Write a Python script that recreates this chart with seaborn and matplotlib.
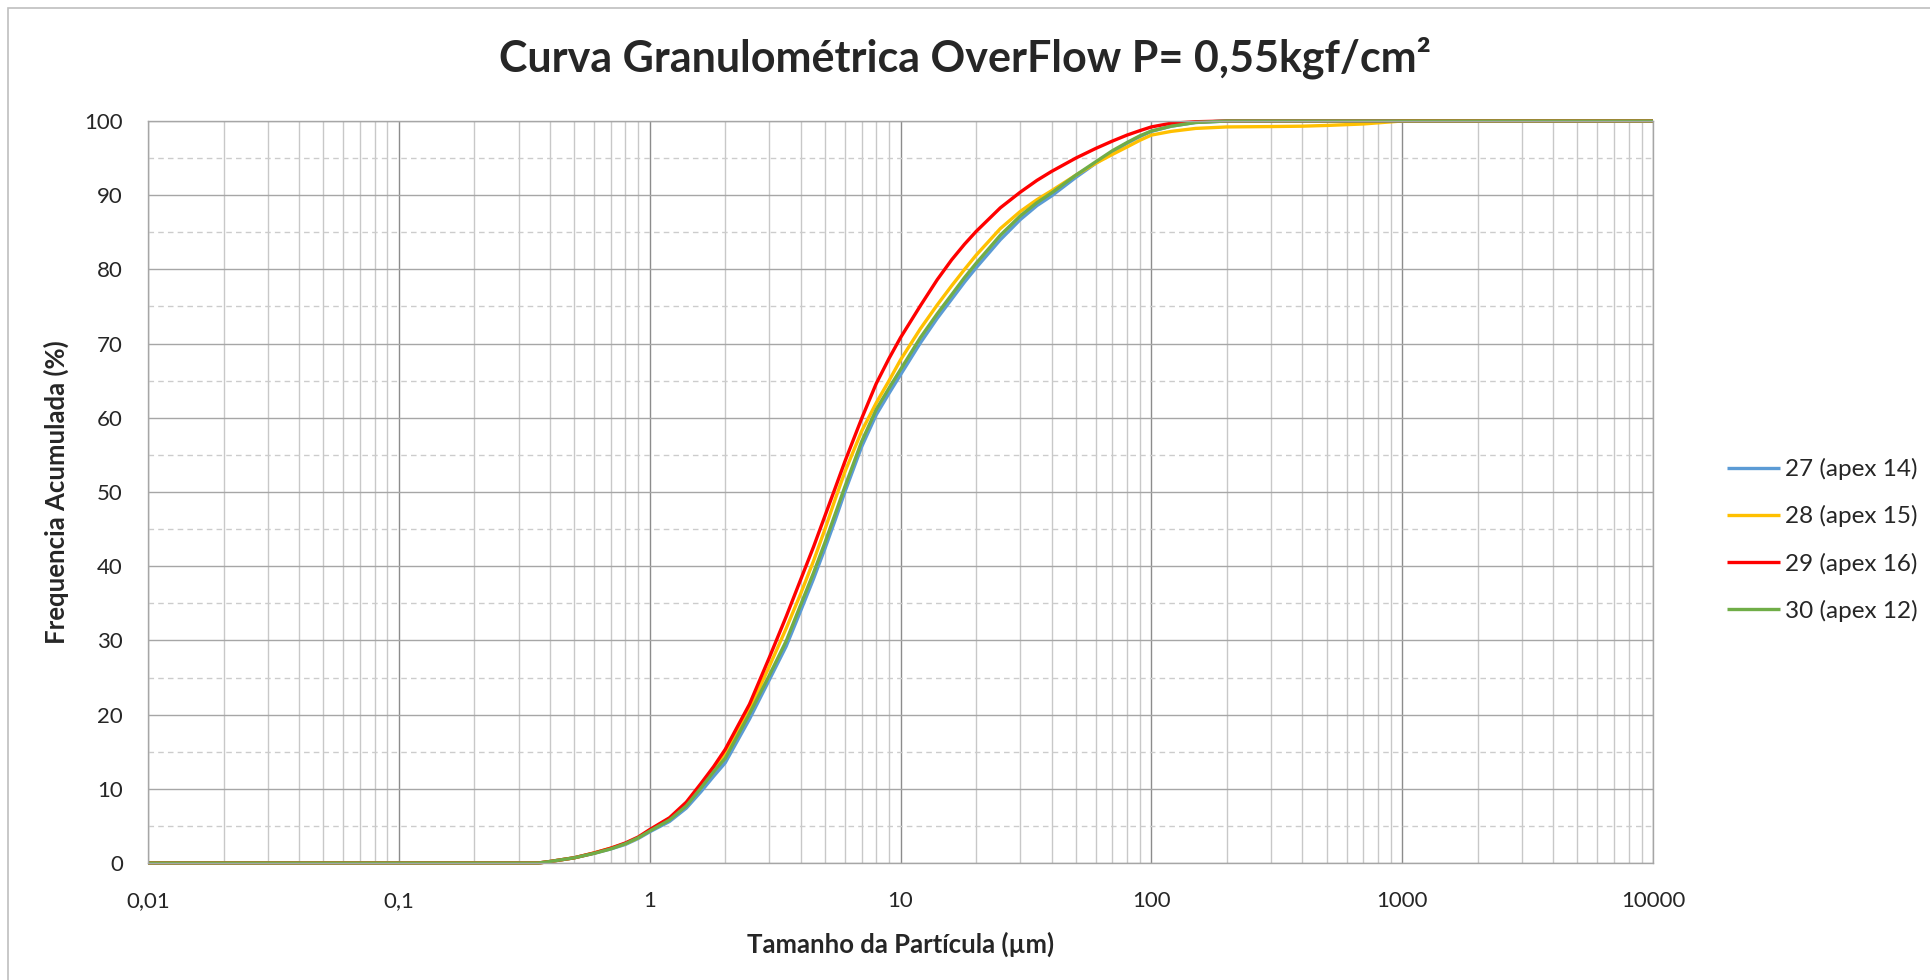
import numpy as np
import pandas as pd
import seaborn as sns
import matplotlib.pyplot as plt
from matplotlib.ticker import FixedLocator, FixedFormatter, NullFormatter
from matplotlib.patches import Rectangle

# particle size (um) and cumulative passing (%) for each sample
sizes = [0.01, 0.02, 0.05, 0.1, 0.2, 0.3, 0.36, 0.4, 0.5, 0.6, 0.7, 0.8, 0.9, 1, 1.2, 1.4,
         1.6, 1.8, 2, 2.5, 3, 3.5, 4, 4.5, 5, 5.5, 6, 7, 8, 9, 10, 12, 14, 16, 18, 20, 25,
         30, 35, 40, 50, 60, 70, 80, 90, 100, 120, 150, 200, 300, 400, 500, 700, 1000,
         2000, 5000, 10000]

s27 = [0, 0, 0, 0, 0, 0, 0, 0.2, 0.7, 1.3, 1.9, 2.5, 3.3, 4.2, 5.6, 7.4,
       9.6, 11.7, 13.5, 19.4, 24.7, 29.2, 34.0, 38.3, 42.4, 46.3, 50.0, 56.1, 60.4, 63.3, 65.8, 70.1, 73.4, 76.0, 78.3, 80.2, 84.0,
       86.7, 88.6, 89.9, 92.4, 94.3, 95.8, 97.0, 97.9, 98.6, 99.3, 99.8, 100, 100, 100, 100, 100, 100,
       100, 100, 100]
s28 = [0, 0, 0, 0, 0, 0, 0, 0.2, 0.7, 1.35, 2.0, 2.6, 3.4, 4.4, 6.0, 8.0,
       10.4, 12.7, 14.8, 20.7, 26.5, 31.6, 36.3, 40.7, 45.0, 49.1, 52.7, 58.2, 62.0, 65.0, 67.8, 72.0, 75.2, 77.8, 80.0, 81.9, 85.5,
       87.8, 89.4, 90.6, 92.7, 94.3, 95.5, 96.5, 97.4, 98.1, 98.6, 99.0, 99.2, 99.25, 99.3, 99.4, 99.6, 100,
       100, 100, 100]
s29 = [0, 0, 0, 0, 0, 0, 0, 0.2, 0.7, 1.35, 2.0, 2.7, 3.5, 4.5, 6.1, 8.2,
       10.7, 13.0, 15.3, 21.4, 27.7, 33.2, 38.2, 42.6, 46.8, 50.6, 54.1, 59.9, 64.6, 68.0, 70.8, 75.1, 78.6, 81.3, 83.4, 85.1, 88.3,
       90.4, 92.0, 93.2, 95.0, 96.3, 97.3, 98.1, 98.7, 99.2, 99.7, 99.9, 100, 100, 100, 100, 100, 100,
       100, 100, 100]
s30 = [0, 0, 0, 0, 0, 0, 0, 0.2, 0.7, 1.3, 1.9, 2.6, 3.4, 4.3, 5.8, 7.7,
       10.1, 12.3, 14.1, 20.1, 25.3, 29.9, 34.8, 39.1, 43.2, 47.1, 50.7, 56.8, 61.1, 64.0, 66.5, 70.8, 74.0, 76.6, 78.9, 80.8, 84.6,
       87.2, 89.0, 90.3, 92.7, 94.5, 96.0, 97.1, 98.0, 98.65, 99.3, 99.8, 100, 100, 100, 100, 100, 100,
       100, 100, 100]

series_names = ["27 (apex 14)", "28 (apex 15)", "29 (apex 16)", "30 (apex 12)"]
colors = ["#5B9BD5", "#FFC000", "#FF0000", "#70AD47"]

df = pd.concat([pd.DataFrame({"size": sizes, "freq": v, "amostra": n})
                for n, v in zip(series_names, [s27, s28, s29, s30])], ignore_index=True)

sns.set_style("white")
plt.rcParams['font.family'] = ['Lato', 'DejaVu Sans']

fig = plt.figure(figsize=(19.3, 9.8), dpi=100)
ax = fig.add_axes([148 / 1930, 1 - 863 / 980, (1653 - 148) / 1930, (863 - 121) / 980])

sns.lineplot(data=df, x="size", y="freq", hue="amostra", palette=colors, estimator=None,
             sort=False, linewidth=2.4, ax=ax)
for line in ax.lines:
    line.set_clip_on(False)
    line.set_solid_capstyle("butt")

ax.set_xscale("log")
ax.set_xlim(0.01, 10000)
ax.set_ylim(0, 100)

# grid like the excel chart
decades = [0.01, 0.1, 1, 10, 100, 1000, 10000]
minor_x = [d * k for d in decades[:-1] for k in range(2, 10)]
ax.xaxis.set_major_locator(FixedLocator(decades))
ax.xaxis.set_major_formatter(FixedFormatter(["0,01", "0,1", "1", "10", "100", "1000", "10000"]))
ax.xaxis.set_minor_locator(FixedLocator(minor_x))
ax.xaxis.set_minor_formatter(NullFormatter())
ax.set_yticks(range(0, 101, 10))
ax.yaxis.set_minor_locator(FixedLocator(range(5, 100, 10)))

ax.grid(which="major", axis="x", color="#8c8c8c", linewidth=1.0)
ax.grid(which="minor", axis="x", color="#c8c8c8", linewidth=1.0)
ax.grid(which="major", axis="y", color="#a6a6a6", linewidth=1.0)
ax.grid(which="minor", axis="y", color="#cccccc", linewidth=1.0, linestyle=(0, (4, 3)))
ax.set_axisbelow(True)
for sp in ax.spines.values():
    sp.set_color("#a6a6a6")
    sp.set_linewidth(1.0)

ax.tick_params(which="both", length=0)
ax.tick_params(axis="y", pad=18, labelsize=16)
ax.tick_params(axis="x", pad=20, labelsize=16)

ax.set_xlabel("Tamanho da Partícula (µm)", fontsize=18.5, fontweight="bold", labelpad=15)
ax.set_ylabel("Frequencia Acumulada (%)", fontsize=18.5, fontweight="bold", labelpad=11)

fig.text(0.5, 0.941, "Curva Granulométrica OverFlow P= 0,55kgf/cm²", ha="center", va="center",
         fontsize=31, fontweight="bold")

ax.legend(loc="center left", bbox_to_anchor=(1717 / 1930, 1 - 540 / 980),
          bbox_transform=fig.transFigure, frameon=False, fontsize=17.5,
          handlelength=2.2, handletextpad=0.2, labelspacing=1.03, borderaxespad=0)

# chart area border (only left and top show inside the image)
fig.add_artist(Rectangle((8 / 1930, -0.05), 1.2, 1 - 8 / 980 + 0.05, fill=False,
                         edgecolor="#bfbfbf", linewidth=1.2, transform=fig.transFigure))

fig.savefig("out.png", dpi=100)
